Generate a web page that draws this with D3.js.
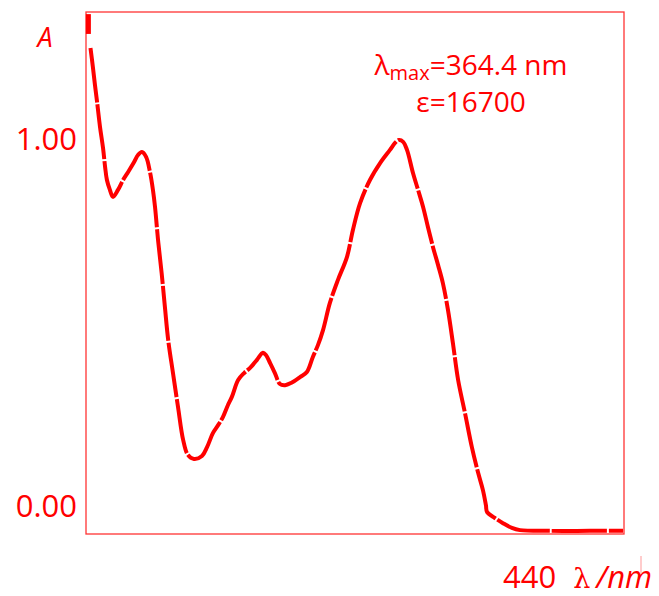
<!DOCTYPE html>
<html><head><meta charset="utf-8">
<script src="https://cdn.jsdelivr.net/npm/d3@7"></script>
<style>
html,body{margin:0;padding:0;background:#fff;}
svg{display:block;font-family:"Comic Sans MS","Open Sans","Noto Sans",sans-serif;}
</style></head>
<body><svg id="c" width="659" height="596"></svg>
<script>
// wavelength (nm) and absorbance
const wavelength = [261.5,262.3,263.0,263.7,264.7,265.7,266.4,267.0,268.0,269.0,270.7,272.4,274.1,276.1,277.4,278.7,280.1,281.4,282.4,283.1,284.1,285.3,286.4,287.5,289.1,290.8,292.5,294.1,296.1,298.8,300.5,302.5,304.2,305.8,307.5,308.8,310.9,312.9,314.9,317.2,319.2,320.2,321.6,323.2,324.9,326.6,328.6,331.6,333.9,335.9,337.6,339.3,341.6,344.3,347.3,349.3,351.7,355.0,358.4,361.7,363.4,364.7,366.1,367.4,369.4,371.1,372.8,374.4,376.1,377.8,379.4,381.1,382.8,384.5,386.8,389.1,391.2,392.8,393.8,394.2,396.8,399.5,402.5,405.2,415.2,428.6,439.7];
const absorbance = [1.251,1.199,1.150,1.104,1.035,0.978,0.926,0.891,0.864,0.845,0.864,0.891,0.913,0.940,0.959,0.967,0.954,0.913,0.864,0.817,0.728,0.638,0.545,0.455,0.365,0.272,0.183,0.142,0.131,0.139,0.163,0.202,0.223,0.245,0.278,0.300,0.346,0.365,0.379,0.401,0.420,0.414,0.392,0.365,0.335,0.332,0.338,0.354,0.368,0.409,0.441,0.482,0.556,0.619,0.681,0.755,0.828,0.891,0.937,0.973,0.992,1.000,0.995,0.973,0.910,0.864,0.817,0.763,0.708,0.659,0.610,0.537,0.444,0.346,0.256,0.163,0.093,0.046,0.005,-0.014,-0.030,-0.044,-0.057,-0.063,-0.065,-0.065,-0.065];
// off-scale trace at the very start
const offscaleWavelength = [260.8,260.8];
const offscaleAbsorbance = [1.343,1.289];
const yTicks = [0,1];
const xLabel = "440";
const annotation = ["λ","max","=364.4 nm"];
const epsilonText = "ε=16700";

const red = "#ff0000";
const svg = d3.select("#c");
const x = d3.scaleLinear().domain([260,440]).range([86,624]);
const y = d3.scaleLinear().domain([0,1]).range([507,140]);

// frame
svg.append("rect").attr("x",86).attr("y",12).attr("width",538).attr("height",522)
  .attr("fill","none").attr("stroke",red).attr("stroke-width",1.3).attr("stroke-opacity",0.8);

// y axis labels
const yAxis = d3.axisLeft(y).tickValues(yTicks).tickFormat(d3.format(".2f")).tickSize(0).tickPadding(9);
const gy = svg.append("g").attr("transform","translate(86,0)").call(yAxis);
gy.select(".domain").remove();
gy.selectAll("text").attr("fill",red).attr("font-size",31).attr("font-family","'Comic Sans MS','Open Sans',sans-serif");

// off-scale segment
const line = d3.line().x(d=>x(d[0])).y(d=>y(d[1]));
svg.append("path").datum(offscaleWavelength.map((w,i)=>[w,offscaleAbsorbance[i]]))
  .attr("d",line).attr("stroke",red).attr("stroke-width",5).attr("fill","none");

// spectrum
const pts = wavelength.map((w,i)=>[w,absorbance[i]]);
svg.append("path").datum(pts)
  .attr("d",d3.line().x(d=>x(d[0])).y(d=>y(d[1])).curve(d3.curveCatmullRom.alpha(0.5)))
  .attr("stroke",red).attr("stroke-width",4).attr("fill","none")
  .attr("stroke-linejoin","round").attr("stroke-dasharray","55,2");

// A label
svg.append("text").attr("x",45).attr("y",47).attr("text-anchor","middle")
  .attr("font-size",27).attr("font-style","italic").attr("fill",red).text("A");

// annotation
const t1 = svg.append("text").attr("x",471).attr("y",75).attr("text-anchor","middle").attr("fill",red).attr("font-size",28);
t1.append("tspan").text(annotation[0]);
t1.append("tspan").attr("font-size",20).attr("dy",5).text(annotation[1]);
t1.append("tspan").attr("dy",-5).text(annotation[2]);
svg.append("text").attr("x",471).attr("y",112).attr("text-anchor","middle").attr("fill",red).attr("font-size",28).text(epsilonText);

// x label
const t2 = svg.append("text").attr("x",x(440)-121).attr("y",588).attr("fill",red).attr("font-size",31);
t2.append("tspan").text(xLabel);
t2.append("tspan").attr("dx",17).attr("font-family","'DejaVu Serif',serif").attr("font-size",27).text("λ");
t2.append("tspan").attr("dx",6).attr("font-style","italic").text("/nm");
svg.append("line").attr("x1",641).attr("x2",641).attr("y1",556).attr("y2",574)
  .attr("stroke","#ff9999").attr("stroke-width",1);
</script></body></html>
